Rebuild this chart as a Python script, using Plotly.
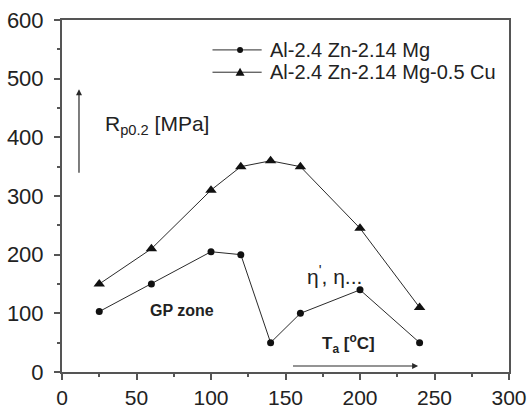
import plotly.graph_objects as go

# Data
temps = [25, 60, 100, 120, 140, 160, 200, 240]
rp_mg = [103, 150, 205, 200, 50, 100, 140, 50]
rp_cu = [150, 210, 310, 350, 360, 350, 245, 110]
names = ["Al-2.4 Zn-2.14 Mg", "Al-2.4 Zn-2.14 Mg-0.5 Cu"]
xticks = [0, 50, 100, 150, 200, 250, 300]
yticks = [0, 100, 200, 300, 400, 500, 600]

LC = "#2a2a2a"
FONT = "Liberation Sans, Arial, sans-serif"

fig = go.Figure()
fig.add_trace(go.Scatter(x=temps, y=rp_mg, mode="lines+markers", name=names[0],
                         line=dict(color=LC, width=1),
                         marker=dict(symbol="circle", size=7, color="#111")))
fig.add_trace(go.Scatter(x=temps, y=rp_cu, mode="lines+markers", name=names[1],
                         line=dict(color=LC, width=1),
                         marker=dict(symbol="triangle-up", size=10, color="#111")))

axis_common = dict(showgrid=False, zeroline=False, showline=True, linewidth=2,
                   linecolor="#555", mirror=True, ticks="outside", ticklen=6,
                   tickwidth=1.5, tickcolor="#555", automargin=False,
                   ticklabeloverflow="allow")
fig.update_xaxes(range=[0, 300], tickvals=xticks, ticktext=[str(v) for v in xticks],
                 minor=dict(tickvals=[25, 75, 125, 175, 225, 275], ticks="outside",
                            ticklen=3, tickcolor="#555"),
                 ticklabelstandoff=0,
                 tickfont=dict(family=FONT, size=21, color="#222"), **axis_common)
fig.update_yaxes(range=[0, 600], tickvals=yticks, ticktext=[str(v) for v in yticks],
                 minor=dict(tickvals=[50, 150, 250, 350, 450, 550], ticks="outside",
                            ticklen=3, tickcolor="#555"),
                 ticklabelstandoff=6,
                 tickfont=dict(family=FONT, size=22, color="#222"), **axis_common)

# Custom legend
leg_rows = [549, 511]
leg_x0, leg_x1, leg_xm, leg_xt = 101, 134, 119.5, 138.5
shapes = []
annotations = []
for i, (yy, nm) in enumerate(zip(leg_rows, names)):
    shapes.append(dict(type="line", xref="x", yref="y", x0=leg_x0, x1=leg_x1,
                       y0=yy, y1=yy, line=dict(color=LC, width=1)))
    if i == 0:
        shapes.append(dict(type="circle", xref="x", yref="y", xsizemode="pixel",
                           ysizemode="pixel", xanchor=leg_xm, yanchor=yy,
                           x0=-3, x1=3, y0=-3, y1=3, fillcolor="#111",
                           line=dict(width=0)))
    else:
        shapes.append(dict(type="path", xref="x", yref="y", xsizemode="pixel",
                           ysizemode="pixel", xanchor=leg_xm, yanchor=yy,
                           path="M -4.5 -3.5 L 4.5 -3.5 L 0 4.5 Z", fillcolor="#111",
                           line=dict(width=0)))
    annotations.append(dict(x=leg_xt, y=yy, xref="x", yref="y", text=nm,
                            showarrow=False, xanchor="left", yanchor="middle",
                            font=dict(family=FONT, size=20, color="#222")))

annotations += [
    dict(x=64, y=421, xref="x", yref="y", text="R<sub>p0.2</sub> [MPa]",
         showarrow=False, font=dict(family=FONT, size=21, color="#222")),
    dict(x=80.5, y=104, xref="x", yref="y", text="<b>GP zone</b>",
         showarrow=False, font=dict(family=FONT, size=16, color="#222")),
    dict(x=182.6, y=165, xref="x", yref="y", text="η<sup>'</sup>, η...",
         showarrow=False, font=dict(family=FONT, size=21, color="#222")),
    dict(x=192, y=49, xref="x", yref="y", text="<b>T<sub>a</sub> [<sup>o</sup>C]</b>",
         showarrow=False, font=dict(family=FONT, size=17, color="#222")),
    # vertical arrow
    dict(x=11.4, y=482, ax=11.4, ay=337, xref="x", yref="y", axref="x", ayref="y",
         text="", showarrow=True, arrowhead=2, arrowsize=1, arrowwidth=1.2,
         arrowcolor=LC),
    # horizontal arrow
    dict(x=239, y=10.2, ax=154, ay=10.2, xref="x", yref="y", axref="x", ayref="y",
         text="", showarrow=True, arrowhead=2, arrowsize=1, arrowwidth=1.2,
         arrowcolor=LC),
]

fig.update_layout(width=527, height=411, margin=dict(l=62, r=18, t=20, b=39),
                  plot_bgcolor="white", paper_bgcolor="white", showlegend=False,
                  shapes=shapes, annotations=annotations,
                  font=dict(family=FONT, color="#222"))

fig.write_html("out.html")
